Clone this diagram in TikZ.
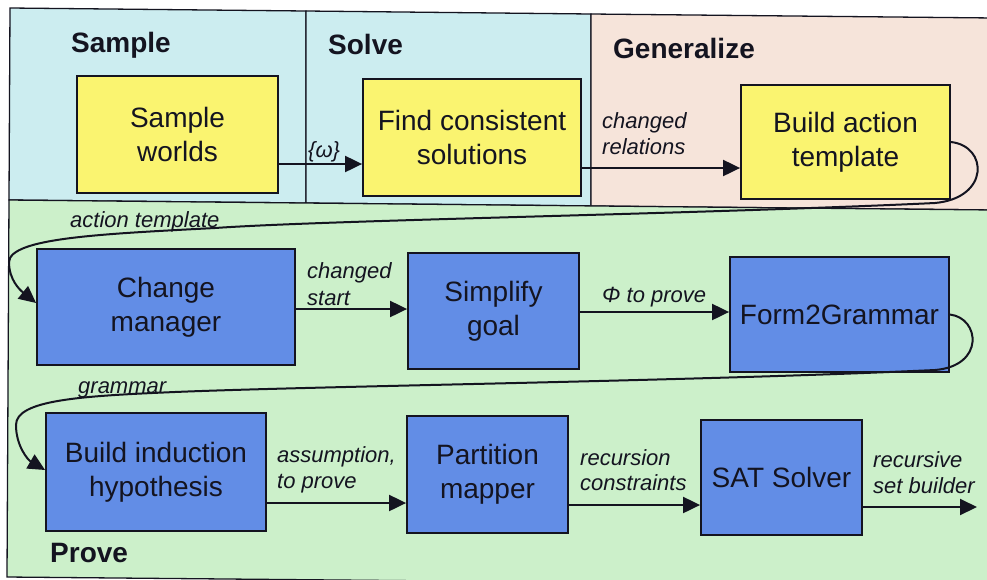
\documentclass[tikz,border=0pt]{standalone}
\usepackage{fontspec}
\setmainfont{Liberation Sans}
\usetikzlibrary{arrows.meta}

\definecolor{panelcyan}{RGB}{204,237,240}
\definecolor{panelpeach}{RGB}{246,228,218}
\definecolor{panelgreen}{RGB}{204,240,202}
\definecolor{boxyellow}{RGB}{250,244,112}
\definecolor{boxblue}{RGB}{98,141,230}
\definecolor{ink}{RGB}{20,20,32}

\begin{document}
\begin{tikzpicture}[x=1pt,y=-1pt,
  frameline/.style={draw=ink, line width=1.3pt},
  stage/.style={draw=ink, line width=1.8pt, align=center, text=ink,
    font=\fontsize{28}{34}\selectfont, inner sep=0pt},
  ystage/.style={stage, fill=boxyellow},
  bstage/.style={stage, fill=boxblue},
  title/.style={font=\fontsize{28}{34}\selectfont\bfseries, text=ink,
    anchor=base west, inner sep=0pt},
  lbl/.style={font=\fontsize{22}{26}\selectfont\itshape, text=ink,
    anchor=base west, inner sep=0pt},
  flow/.style={draw=ink, line width=2pt, -{Triangle[length=17pt,width=16pt]}},
]
\useasboundingbox (0,0) rectangle (987,579);
\fill[white] (0,0) rectangle (987,579);

% stage panels
\begin{scope}
  \clip (0,0) rectangle (987,579);
  \filldraw[frameline, fill=panelcyan]  (10,8) -- (306,11) -- (306,203) -- (9,200) -- cycle;
  \filldraw[frameline, fill=panelcyan]  (306,11) -- (591,14) -- (591,206) -- (306,203) -- cycle;
  \filldraw[frameline, fill=panelpeach] (591,14) -- (994,18) -- (994,210) -- (591,206) -- cycle;
  \filldraw[frameline, fill=panelgreen] (9,200) -- (994,210) -- (994,586) -- (7,577) -- cycle;
\end{scope}

% panel titles
\node[title] (tsample) at (71,52) {Sample};
\node[title] (tsolve)  at (328,54) {Solve};
\node[title] (tgen)    at (613,58) {Generalize};
\node[title] (tprove)  at (50,562) {Prove};

% processing stages
\node[ystage, minimum width=201pt, minimum height=117pt] (sw)  at (177.5,134.5) {Sample\\worlds};
\node[ystage, minimum width=218pt, minimum height=117pt] (fcs) at (472,137.5) {Find consistent\\solutions};
\node[ystage, minimum width=209pt, minimum height=114pt] (bat) at (845.5,142) {Build action\\template};

\node[bstage, minimum width=258pt, minimum height=116pt] (cm)  at (166,307) {Change\\manager};
\node[bstage, minimum width=171pt, minimum height=116pt] (sg)  at (493.5,311) {Simplify\\goal};
\node[bstage, minimum width=219pt, minimum height=115pt] (f2g) at (839.5,314.5) {Form2Grammar};

\node[bstage, minimum width=220pt, minimum height=118pt] (bih) at (156,472) {Build induction\\hypothesis};
\node[bstage, minimum width=161pt, minimum height=117pt] (pm)  at (487.5,474.5) {Partition\\mapper};
\node[bstage, minimum width=161pt, minimum height=115pt] (sat) at (781.5,477.5) {SAT Solver};

% straight connectors
\draw[flow] ([yshift=-29.5pt]sw.east) coordinate (s1) -- (s1 -| fcs.west);
\draw[flow] ([yshift=-30.5pt]fcs.east) coordinate (s2) -- (s2 -| bat.west);
\draw[flow] ([yshift=-2pt]cm.east) coordinate (s3) -- (s3 -| sg.west);
\draw[flow] ([yshift=-1pt]sg.east) coordinate (s4) -- (s4 -| f2g.west);
\draw[flow] ([yshift=-31pt]bih.east) coordinate (s5) -- (s5 -| pm.west);
\draw[flow] ([yshift=-30.5pt]pm.east) coordinate (s6) -- (s6 -| sat.west);
\coordinate (out) at (977,507);
\draw[flow] ([yshift=-29.5pt]sat.east) -- (out);

% wrap-around connectors
\draw[flow] (bat.east) .. controls (988,146) and (990,198) .. (935,203)
  .. controls (700,214) and (330,220) .. (215,228)
  .. controls (100,234) and (10,238) .. (9,262)
  .. controls (9,280) and (20,290) .. ([yshift=4pt]cm.west);
\draw[flow] (f2g.east) .. controls (980,318) and (985,366) .. (935,370)
  .. controls (700,381) and (320,386) .. (175,392)
  .. controls (80,396) and (16,400) .. (16,425)
  .. controls (16,446) and (28,460) .. ([yshift=2pt]bih.west);

% connector labels
\node[lbl] (lw)   at (308,157) {\{ω\}};
\node[lbl] (lcr1) at (602,128) {changed};
\node[lbl] (lcr2) at (602,154) {relations};
\node[lbl] (lat)  at (70,227)  {action template};
\node[lbl] (lcs1) at (307,278) {changed};
\node[lbl] (lcs2) at (307,305) {start};
\node[lbl] (lphi) at (602,302) {Φ to prove};
\node[lbl] (lgr)  at (78,393)  {grammar};
\node[lbl] (las1) at (277,462) {assumption,};
\node[lbl] (las2) at (277,488) {to prove};
\node[lbl] (lrc1) at (580,465) {recursion};
\node[lbl] (lrc2) at (580,490) {constraints};
\node[lbl] (lrs1) at (873,467) {recursive};
\node[lbl] (lrs2) at (873,493) {set builder};
\end{tikzpicture}
\end{document}
